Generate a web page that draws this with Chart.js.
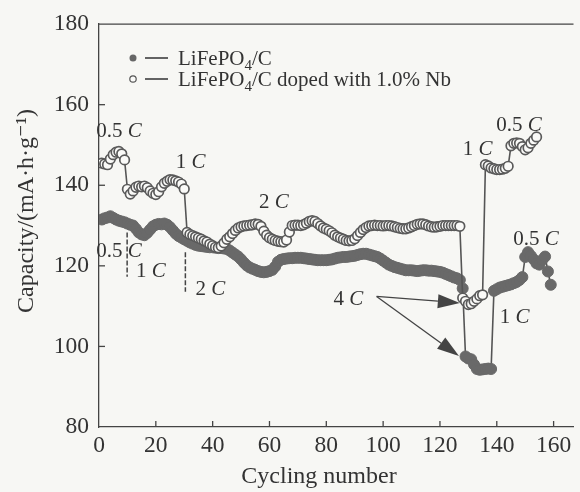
<!DOCTYPE html>
<html>
<head>
<meta charset="utf-8">
<script src="https://cdn.jsdelivr.net/npm/chart.js@4.4.1/dist/chart.umd.min.js"></script>
<style>
  body { margin: 0; background: #f7f7f4; }
  canvas { display: block; }
</style>
</head>
<body>
<canvas id="myChart" width="580" height="492"></canvas>
<script>
// LiFePO4/C, cycles 1..159
var filledCapacity = [
    131.5, 131.8, 132.0, 132.3, 131.9, 131.5, 131.2, 131.0, 130.8, 130.5,
    130.2, 130.0, 129.2, 128.3, 127.8, 127.6, 128.2, 129.0, 129.8, 130.2,
    130.4, 130.3, 130.5, 130.2, 129.6, 128.8, 128.0, 127.4, 127.0, 126.6,
    126.2, 125.8, 125.5, 125.2, 125.0, 124.9, 124.8, 124.7, 124.6, 124.6,
    124.5, 124.4, 124.4, 124.3, 124.2, 123.8, 123.3, 122.8, 122.3, 121.6,
    120.8, 120.1, 119.6, 119.3, 119.0, 118.7, 118.5, 118.4, 118.5, 118.7,
    119.0, 119.8, 121.0, 121.5, 121.7, 121.8, 121.9, 121.9, 122.0, 122.0,
    122.0, 121.9, 121.8, 121.7, 121.6, 121.5, 121.4, 121.4, 121.4, 121.4,
    121.5, 121.6, 121.8, 122.0, 122.1, 122.2, 122.2, 122.3, 122.4, 122.5,
    122.7, 122.9, 123.0, 123.0, 122.8, 122.6, 122.4, 122.2, 121.8, 121.3,
    120.8, 120.3, 120.0, 119.7, 119.5, 119.3, 119.1, 118.9, 118.9, 118.9,
    118.8, 118.7, 118.8, 118.9, 118.9, 118.8, 118.8, 118.7, 118.6, 118.5,
    118.3, 118.0, 117.7, 117.4, 117.1, 116.9, 116.5, 114.4, 97.5, 97.0,
    96.8, 95.5, 94.4, 94.2, 94.3, 94.4, 94.5, 94.4, 113.8, 114.2,
    114.6, 114.8, 115.0, 115.2, 115.4, 115.7, 116.0, 116.5, 117.2, 122.2,
    123.4, 122.5, 121.6, 120.6, 120.3, 121.5, 122.3, 118.6, 115.3
];

// LiFePO4/C doped with 1.0% Nb, cycles 1..154
var openCapacity = [
    145.5, 145.3, 145.1, 146.5, 147.6, 148.2, 148.4, 147.8, 146.3, 139.0,
    137.8, 138.6, 139.5, 139.8, 139.6, 139.8, 139.4, 138.6, 138.0, 137.7,
    138.4, 139.6, 140.5, 141.0, 141.4, 141.3, 141.1, 140.8, 140.3, 139.1,
    128.3, 127.8, 127.5, 127.2, 126.9, 126.6, 126.2, 125.9, 125.4, 125.0,
    124.6, 124.5, 124.9, 125.7, 126.6, 127.2, 128.0, 128.8, 129.4, 129.7,
    129.9, 130.0, 130.1, 130.2, 130.4, 130.3, 129.8, 128.6, 127.6, 127.0,
    126.6, 126.3, 126.1, 126.0, 125.9, 126.4, 128.4, 130.0, 130.1, 130.1,
    130.0, 130.2, 130.6, 131.0, 131.2, 131.0, 130.5, 129.9, 129.4, 129.1,
    128.7, 128.2, 127.6, 127.2, 126.9, 126.6, 126.3, 126.2, 126.3, 126.7,
    127.5, 128.3, 129.0, 129.5, 129.9, 130.0, 130.1, 130.0, 130.0, 129.9,
    130.0, 130.0, 129.9, 129.7, 129.5, 129.3, 129.2, 129.2, 129.4, 129.7,
    130.0, 130.3, 130.4, 130.4, 130.2, 129.9, 129.7, 129.6, 129.7, 129.8,
    130.0, 130.0, 130.0, 130.0, 130.0, 130.0, 129.8, 112.0, 111.2, 110.4,
    110.6, 111.2, 111.8, 112.6, 112.8, 145.1, 144.8, 144.3, 144.1, 143.9,
    143.9, 144.0, 144.2, 144.7, 149.8, 150.4, 150.5, 150.4, 149.6, 148.8,
    149.3, 150.4, 151.2, 152.0
];

var firstCycle = 1;
var xTicks = [0, 20, 40, 60, 80, 100, 120, 140, 160];
var yTicks = [80, 100, 120, 140, 160, 180];

// rate labels: [x, y, number]
var rateLabels = [
    [-1, 151.9, '0.5'],
    [27, 144.2, '1'],
    [56.3, 134.4, '2'],
    [-1, 122.1, '0.5'],
    [13, 117.2, '1'],
    [34, 112.8, '2'],
    [82.5, 110.3, '4'],
    [128, 147.4, '1'],
    [139.8, 153.4, '0.5'],
    [145.8, 125.2, '0.5'],
    [141, 105.9, '1']
];

var textColor = '#333';
var serif = '"Liberation Serif", "DejaVu Serif", serif';

function toPoints(values) {
    var pts = [];
    for (var i = 0; i < values.length; i++) {
        pts.push({ x: firstCycle + i, y: values[i] });
    }
    return pts;
}

function drawParts(ctx, parts, x, y) {
    for (var i = 0; i < parts.length; i++) {
        var p = parts[i];
        ctx.font = (p.it ? 'italic ' : '') + (p.sub ? '15px ' : '21px ') + serif;
        ctx.fillText(p.t, x, y + (p.sub ? 5 : 0));
        x += ctx.measureText(p.t).width;
    }
    return x;
}

function arrow(ctx, x1, y1, x2, y2) {
    var ang = Math.atan2(y2 - y1, x2 - x1);
    var len = 22, w = 7;
    ctx.beginPath();
    ctx.moveTo(x1, y1);
    ctx.lineTo(x2 - Math.cos(ang) * len, y2 - Math.sin(ang) * len);
    ctx.stroke();
    ctx.beginPath();
    ctx.moveTo(x2, y2);
    ctx.lineTo(x2 - Math.cos(ang) * len - Math.sin(ang) * w, y2 - Math.sin(ang) * len + Math.cos(ang) * w);
    ctx.lineTo(x2 - Math.cos(ang) * len + Math.sin(ang) * w, y2 - Math.sin(ang) * len - Math.cos(ang) * w);
    ctx.closePath();
    ctx.fill();
}

var decorPlugin = {
    id: 'decor',
    beforeDraw: function(chart) {
        var ctx = chart.ctx;
        ctx.save();
        ctx.fillStyle = '#f7f7f4';
        ctx.fillRect(0, 0, chart.width, chart.height);
        ctx.restore();
    },
    afterDraw: function(chart) {
        var ctx = chart.ctx;
        var xs = chart.scales.x, ys = chart.scales.y;
        var area = chart.chartArea;
        ctx.save();
        ctx.strokeStyle = '#444';
        ctx.fillStyle = '#444';
        ctx.lineWidth = 1.3;

        // top border
        ctx.beginPath();
        ctx.moveTo(area.left, area.top);
        ctx.lineTo(area.right, area.top);
        ctx.stroke();

        // inward ticks
        for (var i = 0; i < yTicks.length; i++) {
            if (yTicks[i] == 80 || yTicks[i] == 180) continue;
            var py = ys.getPixelForValue(yTicks[i]);
            ctx.beginPath();
            ctx.moveTo(area.left, py);
            ctx.lineTo(area.left + 6, py);
            ctx.stroke();
        }
        for (var j = 0; j < xTicks.length; j++) {
            if (xTicks[j] == 0) continue;
            var px = xs.getPixelForValue(xTicks[j]);
            ctx.beginPath();
            ctx.moveTo(px, area.bottom);
            ctx.lineTo(px, area.bottom - 6);
            ctx.stroke();
        }

        // dashed separators
        ctx.setLineDash([5, 2]);
        ctx.lineWidth = 1.5;
        ctx.beginPath();
        ctx.moveTo(xs.getPixelForValue(9.9), ys.getPixelForValue(128.3));
        ctx.lineTo(xs.getPixelForValue(9.9), ys.getPixelForValue(117.3));
        ctx.moveTo(xs.getPixelForValue(30.4), ys.getPixelForValue(123.4));
        ctx.lineTo(xs.getPixelForValue(30.4), ys.getPixelForValue(113.6));
        ctx.stroke();
        ctx.setLineDash([]);

        // 4C arrows
        ctx.lineWidth = 1.3;
        var ax = xs.getPixelForValue(97.7), ay = ys.getPixelForValue(112.4);
        arrow(ctx, ax, ay, xs.getPixelForValue(127.0), ys.getPixelForValue(110.8));
        arrow(ctx, ax, ay, xs.getPixelForValue(126.7), ys.getPixelForValue(97.6));

        // rate labels
        ctx.fillStyle = textColor;
        ctx.textBaseline = 'alphabetic';
        for (var k = 0; k < rateLabels.length; k++) {
            var r = rateLabels[k];
            drawParts(ctx, [{ t: r[2] + ' ' }, { t: 'C', it: true }],
                xs.getPixelForValue(r[0]), ys.getPixelForValue(r[1]));
        }

        // legend
        var lx = 133;
        ctx.fillStyle = '#666';
        ctx.beginPath();
        ctx.arc(lx, 58, 3.5, 0, Math.PI * 2);
        ctx.fill();
        ctx.fillStyle = '#fafaf8';
        ctx.strokeStyle = '#555';
        ctx.lineWidth = 1.2;
        ctx.beginPath();
        ctx.arc(lx, 79, 3.2, 0, Math.PI * 2);
        ctx.fill();
        ctx.stroke();
        ctx.strokeStyle = '#333';
        ctx.lineWidth = 1.5;
        ctx.beginPath();
        ctx.moveTo(145, 58); ctx.lineTo(168, 58);
        ctx.moveTo(145, 79); ctx.lineTo(168, 79);
        ctx.stroke();
        ctx.fillStyle = textColor;
        drawParts(ctx, [{ t: 'LiFePO' }, { t: '4', sub: true }, { t: '/C' }], 178, 65);
        drawParts(ctx, [{ t: 'LiFePO' }, { t: '4', sub: true }, { t: '/C doped with 1.0% Nb' }], 178, 86);

        // axis titles
        ctx.font = '24px ' + serif;
        ctx.textAlign = 'center';
        ctx.textBaseline = 'middle';
        ctx.fillText('Cycling number', 319, 477);
        ctx.translate(27, 211);
        ctx.rotate(-Math.PI / 2);
        ctx.fillText('Capacity/(mA·h·g⁻¹)', 0, 0);
        ctx.restore();
    }
};

const ctx = document.getElementById('myChart').getContext('2d');
const myChart = new Chart(ctx, {
    type: 'line',
    data: {
        datasets: [{
            label: 'LiFePO4/C doped with 1.0% Nb',
            data: toPoints(openCapacity),
            order: 0,
            borderColor: '#555',
            borderWidth: 1.6,
            pointRadius: 4.8,
            pointBorderWidth: 1.7,
            pointBackgroundColor: '#fafaf8',
            pointBorderColor: '#5a5a5a',
            tension: 0
        }, {
            label: 'LiFePO4/C',
            data: toPoints(filledCapacity),
            order: 1,
            borderColor: '#555',
            borderWidth: 1.6,
            pointRadius: 5.5,
            pointBorderWidth: 1,
            pointBackgroundColor: '#696969',
            pointBorderColor: '#696969',
            tension: 0
        }]
    },
    options: {
        responsive: false,
        animation: false,
        devicePixelRatio: 1,
        layout: { padding: { top: 20, right: 0, bottom: 0, left: 0 } },
        plugins: {
            legend: { display: false },
            tooltip: { enabled: false }
        },
        scales: {
            x: {
                type: 'linear',
                min: 0,
                max: 167,
                grid: { display: false, drawTicks: false },
                border: { display: true, color: '#444', width: 1.3 },
                afterFit: function(scale) { scale.height = 65; },
                afterBuildTicks: function(scale) {
                    scale.ticks = xTicks.map(function(v) { return { value: v }; });
                },
                ticks: {
                    padding: 5,
                    color: textColor,
                    font: { family: serif, size: 23.5 }
                }
            },
            y: {
                min: 80,
                max: 180,
                grid: { display: false, drawTicks: false },
                border: { display: true, color: '#444', width: 1.3 },
                afterFit: function(scale) { scale.width = 99; },
                afterBuildTicks: function(scale) {
                    scale.ticks = yTicks.map(function(v) { return { value: v }; });
                },
                ticks: {
                    padding: 10,
                    color: textColor,
                    font: { family: serif, size: 23.5 }
                }
            }
        }
    },
    plugins: [decorPlugin]
});
</script>
</body>
</html>
